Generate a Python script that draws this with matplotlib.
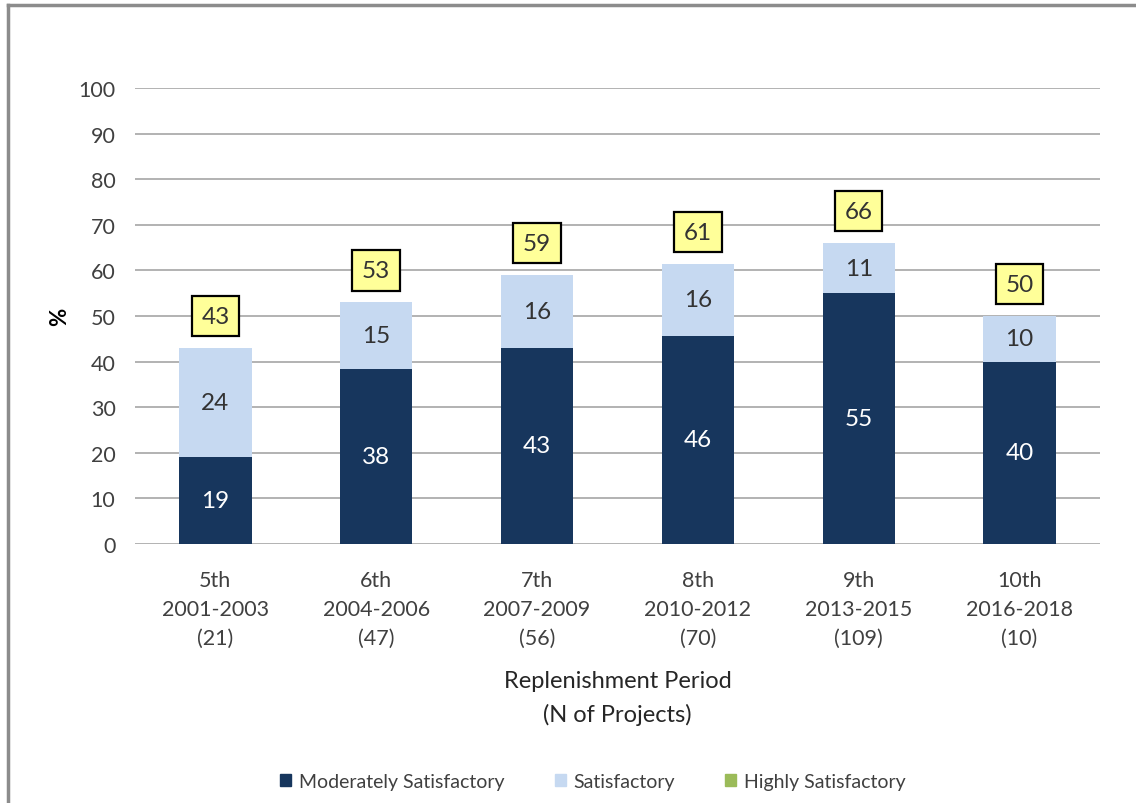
import matplotlib.pyplot as plt
from matplotlib.patches import Patch
from matplotlib.lines import Line2D

plt.rcParams['font.family'] = ['Lato', 'DejaVu Sans']

# Data
periods = ['5th\n2001-2003\n(21)', '6th\n2004-2006\n(47)', '7th\n2007-2009\n(56)',
           '8th\n2010-2012\n(70)', '9th\n2013-2015\n(109)', '10th\n2016-2018\n(10)']
moderately = [19, 38.3, 43, 45.7, 55, 40]
satisfactory = [24, 14.7, 16, 15.7, 11, 10]
highly = [0, 0, 0, 0, 0, 0]

c_mod = '#17365D'
c_sat = '#C6D9F1'
c_high = '#9BBB59'
txt = '#404040'

fig = plt.figure(figsize=(11.36, 8.04), dpi=100)
ax = fig.add_axes([0.1188, 0.3221, 0.8495, 0.5672])

x = range(len(periods))
w = 0.45
ax.bar(x, moderately, w, color=c_mod, zorder=2)
ax.bar(x, satisfactory, w, bottom=moderately, color=c_sat, zorder=2)

for i in x:
    m, s = moderately[i], satisfactory[i]
    ax.text(i, m / 2, f'{round(m)}', ha='center', va='center', color='white', fontsize=17.5, zorder=3)
    ax.text(i, m + s / 2, f'{round(s)}', ha='center', va='center', color='#333333', fontsize=17.5, zorder=3)
    total = m + s
    ax.text(i, total + 7, f'{round(total)}', ha='center', va='center', color='#333333', fontsize=17.5,
            bbox=dict(boxstyle='square,pad=0.4', facecolor='#FFFF99', edgecolor='black', linewidth=1.6),
            zorder=4)

ax.set_xlim(-0.5, len(periods) - 0.5)
ax.set_ylim(0, 100)
ax.set_yticks(range(0, 101, 10))
ax.yaxis.grid(True, color='#A6A6A6', linewidth=1.2, zorder=0)
ax.set_axisbelow(True)
for sp in ax.spines.values():
    sp.set_visible(False)
ax.tick_params(axis='both', length=0, labelsize=15.5, colors=txt, pad=14)
ax.tick_params(axis='x', pad=19)
ax.set_xticks(list(x))
ax.set_xticklabels(periods, linespacing=1.54)
ax.set_ylabel('%', fontsize=16, fontweight='bold', color='black', labelpad=6)
ax.set_xlabel('Replenishment Period\n(N of Projects)', fontsize=17, color='#262626', labelpad=16,
              linespacing=1.68)

handles = [Patch(color=c_mod), Patch(color=c_sat), Patch(color=c_high)]
fig.legend(handles, ['Moderately Satisfactory', 'Satisfactory', 'Highly Satisfactory'],
           loc='center', bbox_to_anchor=(0.522, 0.027), ncol=3, frameon=False, fontsize=14,
           handlelength=0.55, handleheight=0.55, columnspacing=2.6, handletextpad=0.4, labelcolor=txt)

# outer chart frame (top and left edges visible)
fig.add_artist(Line2D([0.007, 0.007], [0, 0.993], color='#8C8C8C', linewidth=2.5))
fig.add_artist(Line2D([0.007, 1.0], [0.993, 0.993], color='#8C8C8C', linewidth=2.5))

fig.savefig('out.png', dpi=100)
